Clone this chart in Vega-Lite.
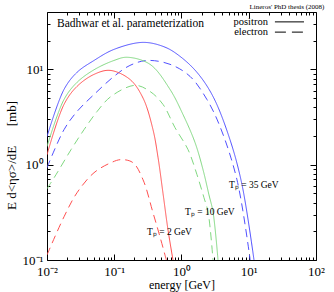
{
  "$schema": "https://vega.github.io/schema/vega-lite/v6.json",
  "width": 269,
  "height": 248,
  "autosize": "none",
  "padding": {"left": 47, "top": 12, "right": 18, "bottom": 32},
  "title": {"text": "Lineros' PhD thesis (2008)", "anchor": "end", "fontSize": 7, "font": "Liberation Serif", "fontWeight": "normal", "offset": 2, "color": "black"},
  "data": {"values": [{}]},
  "datasets": {
    "curves": [
      {"Tp": "35", "particle": "positron", "E": 0.01, "v": 1.97},
      {"Tp": "35", "particle": "positron", "E": 0.0179, "v": 6.16},
      {"Tp": "35", "particle": "positron", "E": 0.0279, "v": 9.3},
      {"Tp": "35", "particle": "positron", "E": 0.05, "v": 12.4},
      {"Tp": "35", "particle": "positron", "E": 0.099, "v": 16.2},
      {"Tp": "35", "particle": "positron", "E": 0.268, "v": 19.2},
      {"Tp": "35", "particle": "positron", "E": 0.569, "v": 17.1},
      {"Tp": "35", "particle": "positron", "E": 0.95, "v": 13.7},
      {"Tp": "35", "particle": "positron", "E": 1.7, "v": 9.3},
      {"Tp": "35", "particle": "positron", "E": 2.94, "v": 5.2},
      {"Tp": "35", "particle": "positron", "E": 5.26, "v": 1.83},
      {"Tp": "35", "particle": "positron", "E": 7.94, "v": 0.616},
      {"Tp": "35", "particle": "positron", "E": 11.97, "v": 0.1},
      {"Tp": "35", "particle": "electron", "E": 0.01, "v": 0.93},
      {"Tp": "35", "particle": "electron", "E": 0.0179, "v": 2.33},
      {"Tp": "35", "particle": "electron", "E": 0.0279, "v": 3.61},
      {"Tp": "35", "particle": "electron", "E": 0.05, "v": 5.45},
      {"Tp": "35", "particle": "electron", "E": 0.099, "v": 8.44},
      {"Tp": "35", "particle": "electron", "E": 0.171, "v": 11.0},
      {"Tp": "35", "particle": "electron", "E": 0.307, "v": 12.4},
      {"Tp": "35", "particle": "electron", "E": 0.675, "v": 11.3},
      {"Tp": "35", "particle": "electron", "E": 1.34, "v": 8.44},
      {"Tp": "35", "particle": "electron", "E": 2.39, "v": 4.83},
      {"Tp": "35", "particle": "electron", "E": 3.74, "v": 2.51},
      {"Tp": "35", "particle": "electron", "E": 6.68, "v": 0.695},
      {"Tp": "35", "particle": "electron", "E": 10.5, "v": 0.1},
      {"Tp": "10", "particle": "positron", "E": 0.01, "v": 1.55},
      {"Tp": "10", "particle": "positron", "E": 0.0179, "v": 4.83},
      {"Tp": "10", "particle": "positron", "E": 0.0279, "v": 7.3},
      {"Tp": "10", "particle": "positron", "E": 0.05, "v": 9.9},
      {"Tp": "10", "particle": "positron", "E": 0.099, "v": 12.4},
      {"Tp": "10", "particle": "positron", "E": 0.155, "v": 13.4},
      {"Tp": "10", "particle": "positron", "E": 0.34, "v": 11.3},
      {"Tp": "10", "particle": "positron", "E": 0.675, "v": 6.16},
      {"Tp": "10", "particle": "positron", "E": 1.053, "v": 3.36},
      {"Tp": "10", "particle": "positron", "E": 1.588, "v": 1.71},
      {"Tp": "10", "particle": "positron", "E": 2.09, "v": 0.886},
      {"Tp": "10", "particle": "positron", "E": 2.56, "v": 0.483},
      {"Tp": "10", "particle": "positron", "E": 2.94, "v": 0.32},
      {"Tp": "10", "particle": "positron", "E": 3.49, "v": 0.1},
      {"Tp": "10", "particle": "electron", "E": 0.01, "v": 0.559},
      {"Tp": "10", "particle": "electron", "E": 0.0136, "v": 0.785},
      {"Tp": "10", "particle": "electron", "E": 0.0228, "v": 1.44},
      {"Tp": "10", "particle": "electron", "E": 0.0355, "v": 2.33},
      {"Tp": "10", "particle": "electron", "E": 0.0553, "v": 3.6},
      {"Tp": "10", "particle": "electron", "E": 0.0895, "v": 5.2},
      {"Tp": "10", "particle": "electron", "E": 0.2035, "v": 6.8},
      {"Tp": "10", "particle": "electron", "E": 0.34, "v": 5.87},
      {"Tp": "10", "particle": "electron", "E": 0.531, "v": 4.29},
      {"Tp": "10", "particle": "electron", "E": 0.8, "v": 2.45},
      {"Tp": "10", "particle": "electron", "E": 1.25, "v": 1.44},
      {"Tp": "10", "particle": "electron", "E": 1.7, "v": 0.785},
      {"Tp": "10", "particle": "electron", "E": 2.16, "v": 0.45},
      {"Tp": "10", "particle": "electron", "E": 2.48, "v": 0.32},
      {"Tp": "10", "particle": "electron", "E": 2.94, "v": 0.1},
      {"Tp": "2", "particle": "positron", "E": 0.01, "v": 1.27},
      {"Tp": "2", "particle": "positron", "E": 0.0179, "v": 4.29},
      {"Tp": "2", "particle": "positron", "E": 0.0279, "v": 6.62},
      {"Tp": "2", "particle": "positron", "E": 0.05, "v": 8.86},
      {"Tp": "2", "particle": "positron", "E": 0.0865, "v": 9.76},
      {"Tp": "2", "particle": "positron", "E": 0.171, "v": 7.85},
      {"Tp": "2", "particle": "positron", "E": 0.268, "v": 5.0},
      {"Tp": "2", "particle": "positron", "E": 0.377, "v": 2.33},
      {"Tp": "2", "particle": "positron", "E": 0.447, "v": 1.2},
      {"Tp": "2", "particle": "positron", "E": 0.531, "v": 0.5},
      {"Tp": "2", "particle": "positron", "E": 0.63, "v": 0.207},
      {"Tp": "2", "particle": "positron", "E": 0.747, "v": 0.1},
      {"Tp": "2", "particle": "electron", "E": 0.01, "v": 0.113},
      {"Tp": "2", "particle": "electron", "E": 0.0179, "v": 0.284},
      {"Tp": "2", "particle": "electron", "E": 0.0279, "v": 0.507},
      {"Tp": "2", "particle": "electron", "E": 0.05, "v": 0.824},
      {"Tp": "2", "particle": "electron", "E": 0.0895, "v": 1.05},
      {"Tp": "2", "particle": "electron", "E": 0.126, "v": 1.13},
      {"Tp": "2", "particle": "electron", "E": 0.19, "v": 1.05},
      {"Tp": "2", "particle": "electron", "E": 0.268, "v": 0.695},
      {"Tp": "2", "particle": "electron", "E": 0.377, "v": 0.313},
      {"Tp": "2", "particle": "electron", "E": 0.479, "v": 0.175},
      {"Tp": "2", "particle": "electron", "E": 0.595, "v": 0.1}
    ]
  },
  "layer": [
    {
      "data": {"name": "curves"},
      "mark": {"type": "line", "interpolate": "catmull-rom", "strokeWidth": 1, "clip": true},
      "encoding": {
        "x": {
          "field": "E", "type": "quantitative",
          "scale": {"type": "log", "domain": [0.01, 100], "nice": false},
          "axis": {
            "orient": "bottom",
            "values": [0.01, 0.1, 1, 10, 100],
            "labelExpr": "datum.value == 0.01 ? '10⁻²' : datum.value == 0.1 ? '10⁻¹' : datum.value == 1 ? '10⁰' : datum.value == 10 ? '10¹' : '10²'",
            "offset": -6, "tickSize": 6, "labelPadding": 5,
            "labelOverlap": false, "labelFlush": false,
            "title": "energy [GeV]", "titlePadding": 1
          }
        },
        "y": {
          "field": "v", "type": "quantitative",
          "scale": {"type": "log", "domain": [0.1, 40], "nice": false},
          "axis": {
            "orient": "left",
            "values": [0.1, 1, 10],
            "labelExpr": "datum.value == 0.1 ? '10⁻¹' : datum.value == 1 ? '10⁰' : '10¹'",
            "offset": -6, "tickSize": 6, "labelPadding": 4,
            "labelOverlap": false, "labelFlush": false,
            "title": "E d<ησ>/dE\u00a0\u00a0\u00a0\u00a0\u00a0\u00a0[mb]", "titlePadding": 4,
            "titleFontSize": 13, "titleY": 143
          }
        },
        "color": {
          "field": "Tp", "type": "nominal",
          "scale": {"domain": ["2", "10", "35"], "range": ["#ff5050", "#80d880", "#5050ff"]},
          "legend": null
        },
        "strokeDash": {
          "field": "particle", "type": "nominal",
          "scale": {"domain": ["positron", "electron"], "range": [[1, 0], [8, 5]]},
          "legend": null
        }
      }
    },
    {
      "data": {"name": "curves"},
      "mark": {"type": "line", "opacity": 0},
      "encoding": {
        "x": {"field": "E", "type": "quantitative",
          "axis": {"orient": "bottom", "values": [0.02,0.03,0.04,0.05,0.06,0.07,0.08,0.09,0.2,0.3,0.4,0.5,0.6,0.7,0.8,0.9,2,3,4,5,6,7,8,9,20,30,40,50,60,70,80,90],
            "labels": false, "title": null, "offset": -3, "tickSize": 3}},
        "y": {"field": "v", "type": "quantitative",
          "axis": {"orient": "left", "values": [0.2,0.3,0.4,0.5,0.6,0.7,0.8,0.9,2,3,4,5,6,7,8,9,20,30],
            "labels": false, "title": null, "offset": -3, "tickSize": 3}},
        "detail": {"field": "Tp"}
      }
    },
    {
      "data": {"name": "curves"},
      "mark": {"type": "line", "opacity": 0},
      "encoding": {
        "x": {"field": "E", "type": "quantitative",
          "axis": {"orient": "top", "values": [0.01, 0.1, 1, 10, 100],
            "labels": false, "title": null, "offset": -6, "tickSize": 6}},
        "y": {"field": "v", "type": "quantitative",
          "axis": {"orient": "right", "values": [0.1, 1, 10],
            "labels": false, "title": null, "offset": -6, "tickSize": 6}},
        "detail": {"field": "Tp"}
      }
    },
    {
      "data": {"name": "curves"},
      "mark": {"type": "line", "opacity": 0},
      "encoding": {
        "x": {"field": "E", "type": "quantitative",
          "axis": {"orient": "top", "values": [0.02,0.03,0.04,0.05,0.06,0.07,0.08,0.09,0.2,0.3,0.4,0.5,0.6,0.7,0.8,0.9,2,3,4,5,6,7,8,9,20,30,40,50,60,70,80,90],
            "labels": false, "title": null, "offset": -3, "tickSize": 3}},
        "y": {"field": "v", "type": "quantitative",
          "axis": {"orient": "right", "values": [0.2,0.3,0.4,0.5,0.6,0.7,0.8,0.9,2,3,4,5,6,7,8,9,20,30],
            "labels": false, "title": null, "offset": -3, "tickSize": 3}},
        "detail": {"field": "Tp"}
      }
    },
    {
      "mark": {"type": "text", "align": "left", "baseline": "middle", "font": "Liberation Serif", "fontSize": 11.5, "color": "black"},
      "encoding": {
        "x": {"datum": 0.0141, "type": "quantitative", "axis": null},
        "y": {"datum": 30.0, "type": "quantitative", "axis": null},
        "text": {"value": "Badhwar et al. parameterization"}
      }
    },
    {
      "mark": {"type": "text", "align": "right", "baseline": "middle", "font": "Liberation Serif", "fontSize": 10.5, "color": "black"},
      "encoding": {
        "x": {"datum": 19.3, "type": "quantitative", "axis": null},
        "y": {"datum": 31.5, "type": "quantitative", "axis": null},
        "text": {"value": "positron"}
      }
    },
    {
      "mark": {"type": "text", "align": "right", "baseline": "middle", "font": "Liberation Serif", "fontSize": 10.5, "color": "black"},
      "encoding": {
        "x": {"datum": 19.3, "type": "quantitative", "axis": null},
        "y": {"datum": 24.6, "type": "quantitative", "axis": null},
        "text": {"value": "electron"}
      }
    },
    {
      "mark": {"type": "rule", "color": "black", "strokeWidth": 1},
      "encoding": {
        "x": {"datum": 24.5, "type": "quantitative", "axis": null},
        "x2": {"datum": 66.3},
        "y": {"datum": 31.5, "type": "quantitative", "axis": null}
      }
    },
    {
      "mark": {"type": "rule", "color": "black", "strokeWidth": 1, "strokeDash": [11, 6]},
      "encoding": {
        "x": {"datum": 24.5, "type": "quantitative", "axis": null},
        "x2": {"datum": 66.3},
        "y": {"datum": 24.6, "type": "quantitative", "axis": null}
      }
    },
    {
      "mark": {"type": "text", "align": "left", "baseline": "middle", "font": "Liberation Serif", "fontSize": 9.5, "color": "black"},
      "encoding": {
        "x": {"datum": 5.08, "type": "quantitative", "axis": null},
        "y": {"datum": 0.616, "type": "quantitative", "axis": null},
        "text": {"value": "Tₚ = 35 GeV"}
      }
    },
    {
      "mark": {"type": "text", "align": "left", "baseline": "middle", "font": "Liberation Serif", "fontSize": 9.5, "color": "black"},
      "encoding": {
        "x": {"datum": 1.127, "type": "quantitative", "axis": null},
        "y": {"datum": 0.32, "type": "quantitative", "axis": null},
        "text": {"value": "Tₚ = 10 GeV"}
      }
    },
    {
      "mark": {"type": "text", "align": "left", "baseline": "middle", "font": "Liberation Serif", "fontSize": 9.5, "color": "black"},
      "encoding": {
        "x": {"datum": 0.307, "type": "quantitative", "axis": null},
        "y": {"datum": 0.197, "type": "quantitative", "axis": null},
        "text": {"value": "Tₚ = 2 GeV"}
      }
    }
  ],
  "resolve": {"axis": {"x": "independent", "y": "independent"}},
  "config": {
    "font": "Liberation Serif",
    "view": {"stroke": "black", "strokeWidth": 1},
    "axis": {
      "domain": false, "grid": false,
      "labelFont": "Liberation Serif", "labelFontSize": 13, "labelColor": "black",
      "tickColor": "black", "tickWidth": 1,
      "titleFont": "Liberation Serif", "titleFontSize": 12, "titleFontWeight": "normal", "titleColor": "black"
    }
  }
}
